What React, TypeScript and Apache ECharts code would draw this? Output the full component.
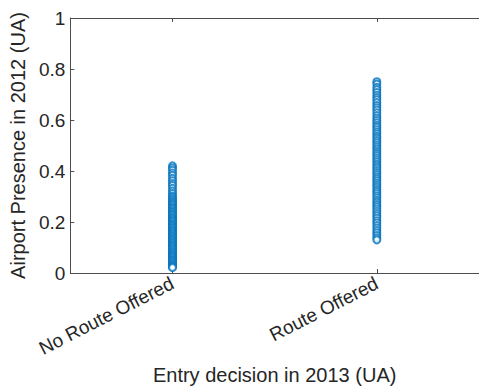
import React, { useEffect, useRef } from "react";
import * as echarts from "echarts";

const categories = ["No Route Offered", "Route Offered"];
const yTicks = [0, 0.2, 0.4, 0.6, 0.8, 1];
const noRouteValues = [
  0.42, 0.412, 0.403, 0.392, 0.383, 0.371, 0.362, 0.351, 0.343, 0.332, 0.321, 0.312,
  0.302, 0.296, 0.289, 0.283, 0.277, 0.271, 0.266, 0.259, 0.254, 0.248, 0.242, 0.237,
  0.231, 0.226, 0.219, 0.214, 0.208, 0.203, 0.197, 0.191, 0.186, 0.18, 0.175, 0.169,
  0.164, 0.158, 0.153, 0.147, 0.142, 0.137, 0.131, 0.126, 0.12, 0.115, 0.109, 0.104,
  0.098, 0.093, 0.087, 0.082, 0.076, 0.071, 0.066, 0.061, 0.055, 0.05, 0.045, 0.04,
  0.035, 0.03, 0.025, 0.021,
];
const routeValues = [
  0.75, 0.741, 0.728, 0.719, 0.708, 0.697, 0.688, 0.679, 0.668, 0.657, 0.648, 0.639,
  0.628, 0.617, 0.607, 0.598, 0.589, 0.579, 0.571, 0.562, 0.553, 0.545, 0.536, 0.528,
  0.519, 0.511, 0.502, 0.494, 0.486, 0.477, 0.469, 0.461, 0.452, 0.444, 0.436, 0.427,
  0.419, 0.411, 0.402, 0.394, 0.386, 0.377, 0.369, 0.361, 0.352, 0.344, 0.336, 0.327,
  0.319, 0.311, 0.302, 0.294, 0.285, 0.277, 0.268, 0.26, 0.251, 0.242, 0.233, 0.224,
  0.215, 0.205, 0.196, 0.186, 0.176, 0.166, 0.157, 0.147, 0.138, 0.13,
];

const FONT = "'Liberation Sans', Arial, Helvetica, sans-serif";
const TEXT = "#262626";
const LINE = "#4d4d4d";

export default function App() {
  const ref = useRef<HTMLDivElement>(null);
  useEffect(() => {
    if (!ref.current) return;
    const chart = echarts.init(ref.current, undefined, { renderer: "svg" });
    const data: [number, number][] = [];
    noRouteValues.forEach((v) => data.push([0, v]));
    routeValues.forEach((v) => data.push([1, v]));
    chart.setOption({
      animation: false,
      grid: { left: 67, top: 18, right: -4, bottom: 119 },
      xAxis: [
        {
          type: "category",
          data: categories,
          boundaryGap: true,
          name: "Entry decision in 2013 (UA)",
          nameLocation: "middle",
          nameGap: 92,
          nameTextStyle: { color: TEXT, fontSize: 20, fontFamily: FONT },
          axisLine: { show: true, lineStyle: { color: LINE, width: 1 } },
          axisTick: { show: true, alignWithLabel: true, inside: true, length: 4, lineStyle: { color: LINE } },
          axisLabel: { rotate: 27, color: TEXT, fontSize: 19, fontFamily: FONT, margin: 9 },
          splitLine: { show: false },
        },
        {
          type: "category",
          data: categories,
          position: "top",
          boundaryGap: true,
          axisLine: { show: true, lineStyle: { color: LINE, width: 1 } },
          axisTick: { show: true, alignWithLabel: true, inside: true, length: 4, lineStyle: { color: LINE } },
          axisLabel: { show: false },
          splitLine: { show: false },
        },
      ],
      yAxis: {
        type: "value",
        min: 0,
        max: 1,
        interval: 0.2,
        name: "Airport Presence in 2012 (UA)",
        nameLocation: "middle",
        nameGap: 36,
        nameTextStyle: { color: TEXT, fontSize: 20, fontFamily: FONT },
        axisLine: { show: true, lineStyle: { color: LINE, width: 1 } },
        axisTick: { show: true, inside: true, length: 4, lineStyle: { color: LINE } },
        axisLabel: {
          color: TEXT,
          fontSize: 19,
          fontFamily: FONT,
          margin: 5,
          formatter: (v: number) => {
            const t = yTicks.find((x) => Math.abs(x - v) < 1e-9);
            return t === undefined ? "" : String(t);
          },
        },
        splitLine: { show: false },
      },
      series: [
        {
          type: "scatter",
          xAxisIndex: 0,
          data,
          symbol: "emptyCircle",
          symbolSize: 7,
          itemStyle: { color: "#0072BD", borderColor: "#0072BD", borderWidth: 1 },
        },
      ],
    });
    return () => chart.dispose();
  }, []);
  return <div ref={ref} style={{ width: 479, height: 392, position: "absolute", left: 0, top: 0 }} />;
}
